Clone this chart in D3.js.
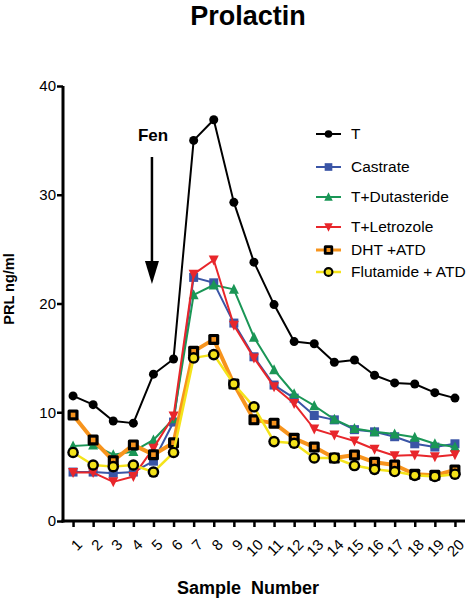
<!DOCTYPE html>
<html>
<head>
<meta charset="utf-8">
<script src="https://cdn.jsdelivr.net/npm/d3@7"></script>
<style>
  html, body { margin: 0; padding: 0; background: #fff; }
  svg { display: block; font-family: "Liberation Sans", Arial, sans-serif; }
</style>
</head>
<body>
<svg id="chart" width="468" height="600"></svg>
<script>
const samples = d3.range(1, 21);
const yTicks = [0, 10, 20, 30, 40];

const seriesNames = ["T", "Castrate", "T+Dutasteride", "T+Letrozole", "DHT +ATD", "Flutamide + ATD"];
const T_values = [11.5, 10.7, 9.2, 9.0, 13.5, 14.9, 35.0, 36.9, 29.3, 23.8, 19.9, 16.5, 16.3, 14.6, 14.8, 13.4, 12.7, 12.6, 11.8, 11.3];
const castrate = [4.5, 4.5, 4.4, 4.5, 5.5, 9.1, 22.4, 21.9, 18.2, 15.1, 12.5, 11.3, 9.7, 9.3, 8.4, 8.2, 7.75, 7.1, 6.8, 7.1];
const dutasteride = [6.9, 7.0, 6.1, 6.4, 7.45, 9.4, 20.8, 21.7, 21.3, 16.9, 13.9, 11.7, 10.6, 9.35, 8.5, 8.2, 8.0, 7.7, 7.1, 6.8];
const letrozole = [4.45, 4.45, 3.6, 4.1, 6.7, 9.65, 22.7, 24.0, 18.0, 15.0, 12.35, 10.8, 8.46, 7.9, 7.36, 6.6, 6.0, 6.07, 5.9, 6.1];
const dhtAtd = [9.75, 7.45, 5.55, 7.0, 6.1, 7.2, 15.6, 16.7, 12.6, 9.3, 9.0, 7.6, 6.8, 5.8, 6.07, 5.4, 5.15, 4.3, 4.2, 4.7];
const flutamideAtd = [6.3, 5.15, 5.0, 5.15, 4.5, 6.3, 15.0, 15.3, 12.6, 10.5, 7.3, 7.15, 5.8, 5.8, 5.1, 4.75, 4.55, 4.2, 4.1, 4.3];
const seriesValues = [T_values, castrate, dutasteride, letrozole, dhtAtd, flutamideAtd];

const styles = [
  { line: "#000000", width: 2, marker: "circle", fill: "#000000", size: 4.5 },
  { line: "#3a55a6", width: 2, marker: "square", fill: "#3a55a6", size: 9 },
  { line: "#1a9656", width: 2, marker: "triUp", fill: "#1a9656", size: 10 },
  { line: "#e8262b", width: 2, marker: "triDown", fill: "#e8262b", size: 10 },
  { line: "#f7941d", width: 4, marker: "boxed", fill: "#f7941d", size: 11 },
  { line: "#f4e31a", width: 2.5, marker: "ringed", fill: "#f4e31a", size: 5.8 }
];

const svg = d3.select("#chart");
const x = d3.scaleLinear().domain([0.5, 20.5]).range([63, 465]);
const y = d3.scaleLinear().domain([0, 40]).range([521, 86]);

// Title
svg.append("text").attr("x", 248).attr("y", 25).attr("text-anchor", "middle")
  .attr("font-size", 27).attr("font-weight", "bold").text("Prolactin");

// Axes
const yAxis = svg.append("g").attr("transform", "translate(63,0)")
  .call(d3.axisLeft(y).tickValues(yTicks).tickSize(6).tickPadding(1).tickFormat(d3.format("d")));
yAxis.select(".domain").attr("stroke-width", 3).attr("d", `M0,${y(40)}V${y(0) + 1.5}`);
yAxis.selectAll(".tick line").attr("stroke-width", 2.5);
yAxis.selectAll(".tick text").attr("font-size", 15).attr("font-family", "Liberation Sans, Arial, sans-serif").attr("fill", "#000");

const xAxis = svg.append("g").attr("transform", `translate(0,${y(0)})`)
  .call(d3.axisBottom(x).tickValues(samples).tickSize(6).tickFormat(d3.format("d")));
xAxis.select(".domain").attr("stroke-width", 3).attr("d", `M${x(0.5) - 1.5},0H${x(20.5)}`);
xAxis.selectAll(".tick line").attr("stroke-width", 2.5);
xAxis.selectAll(".tick text")
  .attr("font-size", 15).attr("font-family", "Liberation Sans, Arial, sans-serif").attr("fill", "#000")
  .attr("text-anchor", "end").attr("y", 0).attr("dy", "0.35em")
  .attr("transform", "translate(6,21) rotate(-45)");

// Axis titles
svg.append("text").attr("transform", "translate(14,289) rotate(-90)").attr("text-anchor", "middle")
  .attr("font-size", 14.5).attr("font-weight", "bold").text("PRL ng/ml");
svg.append("text").attr("x", 248).attr("y", 594).attr("text-anchor", "middle")
  .attr("font-size", 18).attr("font-weight", "bold").attr("xml:space", "preserve").style("white-space", "pre")
  .text("Sample  Number");

// Fen annotation
svg.append("text").attr("x", 153).attr("y", 141).attr("text-anchor", "middle")
  .attr("font-size", 17).attr("font-weight", "bold").text("Fen");
svg.append("line").attr("x1", x(5) - 1.5).attr("x2", x(5) - 1.5).attr("y1", 157).attr("y2", 266)
  .attr("stroke", "#000").attr("stroke-width", 2.5);
svg.append("path")
  .attr("d", `M${x(5) - 8.5},261L${x(5) + 5.5},261L${x(5) - 1.5},284Z`)
  .attr("fill", "#000");

function drawMarker(g, st, cx, cy, scale) {
  const s = st.size * scale;
  if (st.marker === "circle") {
    g.append("circle").attr("cx", cx).attr("cy", cy).attr("r", s).attr("fill", st.fill);
  } else if (st.marker === "square") {
    g.append("rect").attr("x", cx - s / 2).attr("y", cy - s / 2).attr("width", s).attr("height", s).attr("fill", st.fill);
  } else if (st.marker === "triUp") {
    const h = s * 0.9;
    g.append("path").attr("d", `M${cx},${cy - h / 2 - 1}L${cx + s / 2},${cy + h / 2}L${cx - s / 2},${cy + h / 2}Z`).attr("fill", st.fill);
  } else if (st.marker === "triDown") {
    const h = s * 0.9;
    g.append("path").attr("d", `M${cx - s / 2},${cy - h / 2}L${cx + s / 2},${cy - h / 2}L${cx},${cy + h / 2 + 1}Z`).attr("fill", st.fill);
  } else if (st.marker === "boxed") {
    g.append("rect").attr("x", cx - s / 2).attr("y", cy - s / 2).attr("width", s).attr("height", s)
      .attr("rx", 1.5).attr("fill", "#000");
    const i = s * 0.42;
    g.append("rect").attr("x", cx - i / 2).attr("y", cy - i / 2).attr("width", i).attr("height", i).attr("fill", st.fill);
  } else if (st.marker === "ringed") {
    g.append("circle").attr("cx", cx).attr("cy", cy).attr("r", s).attr("fill", "#000");
    g.append("circle").attr("cx", cx).attr("cy", cy).attr("r", s * 0.58).attr("fill", st.fill);
  }
}

const line = d3.line().x((d, i) => x(samples[i])).y(d => y(d));

seriesValues.forEach((vals, k) => {
  const st = styles[k];
  const g = svg.append("g");
  g.append("path").datum(vals).attr("d", line).attr("fill", "none")
    .attr("stroke", st.line).attr("stroke-width", st.width).attr("stroke-linejoin", "round");
  vals.forEach((v, i) => drawMarker(g, st, x(samples[i]), y(v), 1));
});

// Legend
const legendY = [134, 167, 197, 227, 250, 272];
seriesNames.forEach((name, k) => {
  const st = styles[k];
  const g = svg.append("g");
  const ly = legendY[k];
  g.append("line").attr("x1", 316).attr("x2", 341).attr("y1", ly).attr("y2", ly)
    .attr("stroke", st.line).attr("stroke-width", Math.min(st.width, 3));
  drawMarker(g, st, 328.5, ly, 0.85);
  g.append("text").attr("x", 351).attr("y", ly).attr("dy", "0.35em")
    .attr("font-size", 15.5).text(name);
});
</script>
</body>
</html>
